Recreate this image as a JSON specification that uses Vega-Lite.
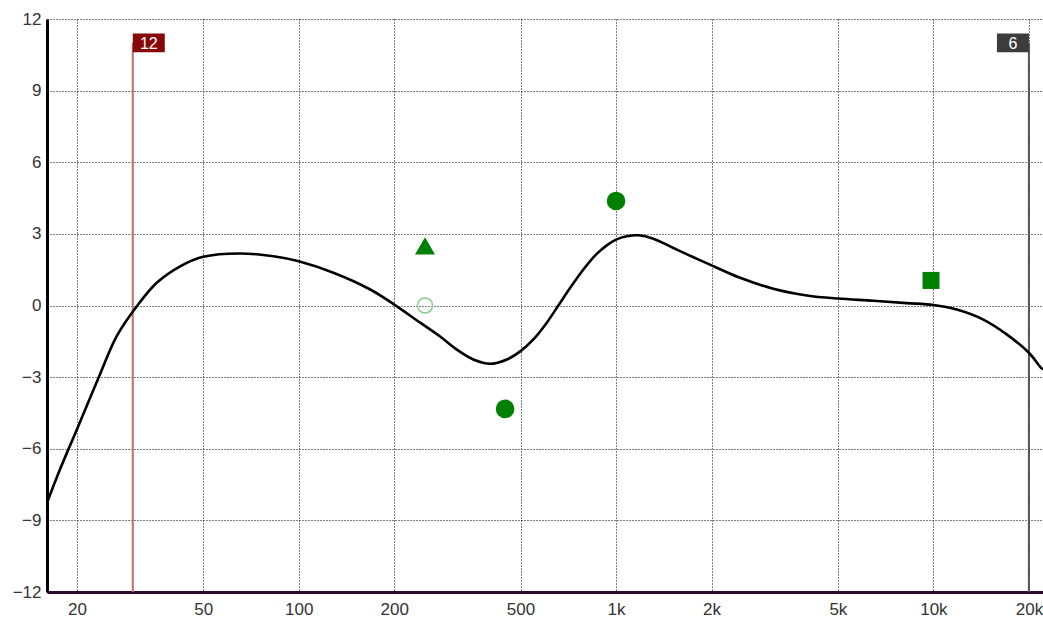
{
  "$schema": "https://vega.github.io/schema/vega-lite/v6.json",
  "width": 996,
  "height": 573,
  "autosize": {"type": "none"},
  "padding": {"left": 47, "top": 19, "right": 0, "bottom": 30},
  "background": "white",
  "config": {
    "view": {"stroke": null},
    "axis": {
      "labelFont": "Liberation Sans",
      "labelFontSize": 17,
      "labelColor": "#333333",
      "ticks": false,
      "grid": true,
      "gridColor": "#000000",
      "gridDash": [1, 2],
      "gridWidth": 1,
      "gridOpacity": 1,
      "labelOverlap": false,
      "title": null
    }
  },
  "datasets": {
    "curve": [
      {"f": 16.1, "g": -8.26}, {"f": 17.7, "g": -6.86}, {"f": 20, "g": -5.19}, {"f": 23.4, "g": -3.03},
      {"f": 26.7, "g": -1.28}, {"f": 30.9, "g": -0.03}, {"f": 35.7, "g": 0.95}, {"f": 42.3, "g": 1.64},
      {"f": 50, "g": 2.04}, {"f": 65.4, "g": 2.18}, {"f": 83.3, "g": 2.06}, {"f": 100, "g": 1.85},
      {"f": 128.6, "g": 1.37}, {"f": 168, "g": 0.67}, {"f": 200, "g": 0.04}, {"f": 241.5, "g": -0.72},
      {"f": 279, "g": -1.3}, {"f": 315, "g": -1.85}, {"f": 355, "g": -2.26}, {"f": 401, "g": -2.44},
      {"f": 453, "g": -2.26}, {"f": 500, "g": -1.91}, {"f": 549, "g": -1.42}, {"f": 605, "g": -0.72},
      {"f": 658, "g": 0.0}, {"f": 717, "g": 0.74}, {"f": 789, "g": 1.51}, {"f": 869, "g": 2.16},
      {"f": 935, "g": 2.52}, {"f": 1000, "g": 2.76}, {"f": 1081, "g": 2.9}, {"f": 1176, "g": 2.94},
      {"f": 1311, "g": 2.8}, {"f": 1516, "g": 2.41}, {"f": 1753, "g": 2.02}, {"f": 2000, "g": 1.68},
      {"f": 2128, "g": 1.52}, {"f": 2460, "g": 1.16}, {"f": 3130, "g": 0.7}, {"f": 3990, "g": 0.42},
      {"f": 5000, "g": 0.29}, {"f": 6470, "g": 0.2}, {"f": 8240, "g": 0.1}, {"f": 10000, "g": 0.02},
      {"f": 11850, "g": -0.17}, {"f": 14370, "g": -0.59}, {"f": 17020, "g": -1.21}, {"f": 20000, "g": -1.98},
      {"f": 21840, "g": -2.61}, {"f": 22150, "g": -2.67}
    ],
    "bands": [
      {"f": 250, "g": 2.5, "type": "low shelf"},
      {"f": 447, "g": -4.33, "type": "peak"},
      {"f": 1000, "g": 4.38, "type": "peak"},
      {"f": 9830, "g": 1.05, "type": "high shelf"}
    ],
    "inactive": [
      {"f": 250, "g": 0}
    ],
    "cutoffs": [
      {"f": 30, "top": 11, "bottom": -12, "label": "12", "side": "left"},
      {"f": 20000, "top": 11, "bottom": -12, "label": "6", "side": "right"}
    ]
  },
  "layer": [
    {
      "data": {"name": "curve"},
      "mark": {"type": "point", "opacity": 0, "size": 1},
      "encoding": {
        "x": {
          "field": "f", "type": "quantitative",
          "scale": {"type": "log", "domain": [16.1, 22150], "nice": false},
          "axis": {
            "values": [20, 50, 100, 200, 500, 1000, 2000, 5000, 10000, 20000],
            "labelExpr": "datum.value >= 1000 ? (datum.value / 1000) + 'k' : datum.value",
            "domainColor": "#2e0a2e",
            "domainWidth": 3,
            "labelPadding": 9,
            "labelFlush": false
          }
        },
        "y": {
          "field": "g", "type": "quantitative",
          "scale": {"domain": [-12, 12], "nice": false},
          "axis": {
            "values": [-12, -9, -6, -3, 0, 3, 6, 9, 12],
            "domainColor": "#000000",
            "domainWidth": 3,
            "labelPadding": 6
          }
        }
      }
    },
    {
      "mark": {"type": "rule", "color": "#000000", "strokeWidth": 3},
      "encoding": {"y": {"datum": 12}}
    },
    {
      "mark": {"type": "rule", "color": "#e89090", "strokeWidth": 1, "strokeDash": [1, 1], "yOffset": 1.5},
      "encoding": {"y": {"datum": 0}}
    },
    {
      "mark": {"type": "rule", "color": "#3c8c3c", "strokeWidth": 1},
      "encoding": {"y": {"datum": 0}}
    },
    {
      "data": {"name": "cutoffs"},
      "mark": {"type": "rule", "strokeWidth": 2},
      "encoding": {
        "x": {"field": "f", "type": "quantitative"},
        "y": {"field": "top", "type": "quantitative"},
        "y2": {"field": "bottom"},
        "color": {"field": "side", "type": "nominal", "scale": {"domain": ["left", "right"], "range": ["#bb7070", "#555555"]}, "legend": null}
      }
    },
    {
      "data": {"name": "curve"},
      "mark": {"type": "line", "color": "#000000", "strokeWidth": 2.6, "interpolate": "catmull-rom", "clip": true},
      "encoding": {
        "x": {"field": "f", "type": "quantitative"},
        "y": {"field": "g", "type": "quantitative"}
      }
    },
    {
      "data": {"name": "inactive"},
      "mark": {"type": "point", "shape": "circle", "filled": false, "size": 230, "stroke": "#8fcc8f", "strokeWidth": 1.5, "opacity": 1},
      "encoding": {
        "x": {"field": "f", "type": "quantitative"},
        "y": {"field": "g", "type": "quantitative"}
      }
    },
    {
      "data": {"name": "bands"},
      "mark": {"type": "point", "filled": true, "opacity": 1, "color": "#008000"},
      "encoding": {
        "x": {"field": "f", "type": "quantitative"},
        "y": {"field": "g", "type": "quantitative"},
        "shape": {"field": "type", "type": "nominal", "scale": {"domain": ["low shelf", "peak", "high shelf"], "range": ["triangle-up", "circle", "square"]}, "legend": null},
        "size": {"field": "type", "type": "nominal", "scale": {"domain": ["low shelf", "peak", "high shelf"], "range": [400, 290, 330]}, "legend": null}
      }
    },
    {
      "data": {"name": "cutoffs"},
      "transform": [{"filter": "datum.side === 'left'"}],
      "mark": {"type": "point", "filled": true, "opacity": 1, "shape": "M0,-0.59H2V0.59H0Z", "size": 1024, "color": "#880808"},
      "encoding": {
        "x": {"field": "f", "type": "quantitative"},
        "y": {"field": "top", "type": "quantitative"}
      }
    },
    {
      "data": {"name": "cutoffs"},
      "transform": [{"filter": "datum.side === 'right'"}],
      "mark": {"type": "point", "filled": true, "opacity": 1, "shape": "M-2,-0.59H0V0.59H-2Z", "size": 1024, "color": "#3c3c3c"},
      "encoding": {
        "x": {"field": "f", "type": "quantitative"},
        "y": {"field": "top", "type": "quantitative"}
      }
    },
    {
      "data": {"name": "cutoffs"},
      "transform": [{"filter": "datum.side === 'left'"}],
      "mark": {"type": "text", "color": "#ffffff", "font": "Liberation Sans", "fontSize": 16, "dx": 16, "dy": 1, "baseline": "middle", "align": "center"},
      "encoding": {
        "x": {"field": "f", "type": "quantitative"},
        "y": {"field": "top", "type": "quantitative"},
        "text": {"field": "label"}
      }
    },
    {
      "data": {"name": "cutoffs"},
      "transform": [{"filter": "datum.side === 'right'"}],
      "mark": {"type": "text", "color": "#ffffff", "font": "Liberation Sans", "fontSize": 16, "dx": -16, "dy": 1, "baseline": "middle", "align": "center"},
      "encoding": {
        "x": {"field": "f", "type": "quantitative"},
        "y": {"field": "top", "type": "quantitative"},
        "text": {"field": "label"}
      }
    }
  ]
}
